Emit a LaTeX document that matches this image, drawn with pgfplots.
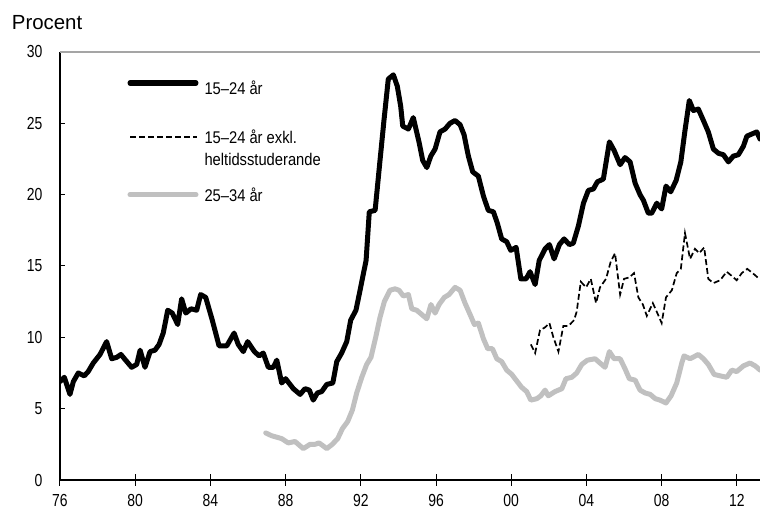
\documentclass[border=0pt]{standalone}
\usepackage{fontspec}
\setmainfont{Liberation Sans}
\newfontfamily\condfont[FakeStretch=0.87]{Liberation Sans}
\newfontfamily\tickfont[FakeStretch=0.80]{Liberation Sans}
\usepackage{pgfplots}
\usepackage{pgfplotstable}
\pgfplotsset{compat=1.18}
\definecolor{lgray}{RGB}{192,192,192}
\definecolor{framegray}{RGB}{165,165,165}
\newcommand\legfont{\condfont\fontsize{17}{20}\selectfont}

\pgfplotstableread{
x y
1976.00 6.9
1976.23 7.2
1976.53 6.0
1976.71 6.9
1976.97 7.5
1977.29 7.3
1977.50 7.6
1977.77 8.2
1978.13 8.8
1978.48 9.7
1978.75 8.5
1979.02 8.6
1979.24 8.8
1979.49 8.4
1979.81 7.9
1980.08 8.1
1980.26 9.1
1980.52 7.9
1980.79 9.0
1981.05 9.1
1981.27 9.5
1981.49 10.3
1981.73 11.9
1981.97 11.7
1982.26 10.9
1982.47 12.7
1982.69 11.7
1982.97 12.0
1983.27 11.9
1983.48 13.0
1983.75 12.8
1984.10 11.2
1984.46 9.4
1984.87 9.4
1985.26 10.3
1985.48 9.5
1985.75 9.0
1985.98 9.7
1986.34 9.0
1986.59 8.7
1986.81 8.9
1987.08 7.9
1987.35 7.9
1987.53 8.4
1987.79 6.8
1988.00 7.1
1988.41 6.4
1988.77 6.0
1989.03 6.4
1989.26 6.3
1989.47 5.6
1989.69 6.1
1989.92 6.2
1990.19 6.7
1990.51 6.8
1990.72 8.3
1990.98 8.9
1991.25 9.7
1991.46 11.2
1991.74 11.9
1991.96 13.3
1992.28 15.4
1992.45 18.8
1992.76 18.9
1993.02 22.4
1993.23 25.2
1993.46 28.1
1993.73 28.4
1993.94 27.6
1994.12 26.2
1994.23 24.8
1994.53 24.6
1994.79 25.4
1995.11 23.6
1995.29 22.4
1995.51 21.9
1995.72 22.7
1995.95 23.2
1996.21 24.4
1996.48 24.6
1996.74 25.0
1997.01 25.2
1997.28 24.9
1997.49 24.2
1997.72 22.7
1997.95 21.6
1998.25 21.3
1998.52 19.9
1998.78 18.9
1999.05 18.8
1999.26 18.0
1999.49 16.9
1999.76 16.7
1999.97 16.1
2000.26 16.3
2000.51 14.1
2000.79 14.1
2001.00 14.6
2001.27 13.7
2001.49 15.4
2001.80 16.2
2002.03 16.5
2002.28 15.5
2002.56 16.5
2002.81 16.9
2003.09 16.5
2003.30 16.6
2003.57 17.8
2003.84 19.4
2004.10 20.3
2004.37 20.4
2004.58 20.9
2004.90 21.1
2005.22 23.7
2005.47 23.1
2005.79 22.1
2006.05 22.6
2006.32 22.3
2006.59 20.8
2006.85 20.0
2007.03 19.6
2007.29 18.7
2007.47 18.7
2007.74 19.4
2008.00 19.0
2008.23 20.6
2008.48 20.2
2008.77 21.0
2009.02 22.3
2009.24 24.5
2009.47 26.6
2009.69 25.9
2009.95 26.0
2010.22 25.2
2010.48 24.4
2010.75 23.2
2011.02 22.9
2011.28 22.8
2011.55 22.3
2011.81 22.7
2012.08 22.8
2012.35 23.4
2012.53 24.1
2013.06 24.4
2013.23 23.9
}\youngtable

\pgfplotstableread{
x y
2001.04 9.5
2001.27 8.9
2001.53 10.5
2001.80 10.7
2002.03 11.0
2002.24 10.0
2002.51 9.0
2002.77 10.8
2003.04 10.8
2003.34 11.2
2003.48 11.8
2003.70 13.9
2003.98 13.5
2004.23 14.1
2004.51 12.4
2004.72 13.5
2005.04 14.1
2005.29 15.3
2005.52 15.9
2005.79 13.0
2006.00 14.1
2006.28 14.2
2006.53 14.5
2006.76 12.8
2007.00 12.3
2007.21 11.5
2007.53 12.4
2007.77 11.7
2008.00 11.0
2008.23 12.8
2008.54 13.3
2008.80 14.5
2009.02 14.8
2009.24 17.3
2009.51 15.5
2009.77 16.2
2010.00 15.9
2010.26 16.3
2010.48 14.1
2010.75 13.8
2011.11 14.0
2011.46 14.6
2011.73 14.3
2011.99 14.0
2012.26 14.5
2012.55 14.8
2012.84 14.5
2013.19 14.1
}\exkltable

\pgfplotstableread{
x y
1986.94 3.3
1987.26 3.1
1987.53 3.0
1987.79 2.9
1988.14 2.6
1988.50 2.7
1988.94 2.2
1989.30 2.5
1989.56 2.5
1989.78 2.6
1990.19 2.2
1990.48 2.5
1990.77 2.9
1991.02 3.6
1991.30 4.1
1991.55 4.9
1991.78 6.1
1992.05 7.2
1992.31 8.1
1992.54 8.6
1992.79 10.0
1993.02 11.4
1993.25 12.5
1993.55 13.3
1993.82 13.4
1994.03 13.3
1994.26 12.9
1994.53 13.0
1994.71 12.0
1994.97 11.9
1995.24 11.6
1995.51 11.3
1995.73 12.3
1995.95 11.7
1996.16 12.3
1996.44 12.8
1996.69 13.0
1997.01 13.5
1997.28 13.3
1997.54 12.4
1997.81 11.6
1998.04 10.9
1998.25 11.0
1998.52 9.9
1998.75 9.2
1999.00 9.2
1999.23 8.5
1999.49 8.3
1999.76 7.7
2000.03 7.4
2000.20 7.1
2000.55 6.5
2000.82 6.2
2001.04 5.6
2001.36 5.7
2001.57 5.9
2001.80 6.3
2001.97 5.9
2002.33 6.2
2002.69 6.4
2002.91 7.1
2003.22 7.2
2003.48 7.5
2003.75 8.1
2004.05 8.4
2004.46 8.5
2004.72 8.2
2004.99 7.9
2005.22 9.0
2005.47 8.5
2005.79 8.5
2006.05 7.8
2006.28 7.1
2006.59 7.0
2006.85 6.3
2007.12 6.1
2007.39 6.0
2007.66 5.7
2007.91 5.6
2008.23 5.4
2008.50 5.9
2008.80 6.8
2009.07 8.2
2009.19 8.7
2009.51 8.5
2009.95 8.8
2010.22 8.5
2010.48 8.1
2010.79 7.4
2011.11 7.3
2011.46 7.2
2011.73 7.7
2011.99 7.6
2012.35 8.0
2012.70 8.2
2012.97 8.0
2013.24 7.7
}\oldtable

\begin{document}
\begin{tikzpicture}
\begin{axis}[
  scale only axis, width=700bp, height=428bp,
  xmin=1976, xmax=2013.23, ymin=0, ymax=30,
  axis x line*=bottom, axis y line*=left,
  axis line style={-, line width=1.3bp, black},
  xtick={1976,1980,...,2012},
  xticklabels={76,80,84,88,92,96,00,04,08,12},
  ytick={0,5,...,30},
  xtick align=center, ytick align=inside,
  major tick length=11bp,
  y tick style={/pgfplots/major tick length=5bp},
  tick style={line width=1bp, black},
  tick label style={font=\tickfont\fontsize{17.5}{20}\selectfont, text=black},
  /pgf/number format/assume math mode=true,
  yticklabel style={inner sep=0pt, xshift=-17.5bp},
  xticklabel style={inner sep=0pt, yshift=-9bp},
  legend style={at={(rel axis cs:0,1)}, anchor=north west, xshift=67.5bp, yshift=-4bp,
    draw=none, fill=none, inner sep=0pt, outer sep=0pt, row sep=0pt, column sep=0pt,
    nodes={inner sep=0pt, outer sep=0pt}},
  legend cell align=left,
  after end axis/.code={\draw[framegray, line width=1.5bp] (rel axis cs:0,1) -- (rel axis cs:1,1);},
]
\addplot[black, line width=5bp, line join=round, line cap=round, no markers,
  legend image code/.code={
    \path[draw=none, fill=none] (0bp,-27bp) rectangle (66bp,27bp);
    \draw[black, solid, line width=5bp, line cap=round] (0bp,0bp) -- (66bp,0bp);
    \node[draw=none, fill=none, text=black, anchor=base west, inner sep=0pt, font=\legfont] at (74.5bp,-11bp) {15–24 år};}]
  table[x=x, y=y] {\youngtable};
\addlegendentry{}
\addplot[black, line width=1.7bp, dash pattern=on 6bp off 3bp, no markers,
  legend image code/.code={
    \path[draw=none, fill=none] (0bp,-27bp) rectangle (66bp,27bp);
    \draw[black, line width=1.7bp, dash pattern=on 6bp off 3bp] (0bp,0bp) -- (67bp,0bp);
    \node[draw=none, fill=none, text=black, anchor=base west, inner sep=0pt, font=\legfont] at (74.5bp,-6.6bp) {15–24 år exkl.};
    \node[draw=none, fill=none, text=black, anchor=base west, inner sep=0pt, font=\legfont] at (74.5bp,-28.3bp) {heltidsstuderande};}]
  table[x=x, y=y] {\exkltable};
\addlegendentry{}
\addplot[lgray, line width=5bp, line join=round, line cap=round, no markers,
  legend image code/.code={
    \path[draw=none, fill=none] (0bp,-27bp) rectangle (66bp,28bp);
    \draw[lgray, solid, line width=5bp, line cap=round] (0bp,0bp) -- (66bp,0bp);
    \node[draw=none, fill=none, text=black, anchor=base west, inner sep=0pt, font=\legfont] at (74.5bp,-6.6bp) {25–34 år};}]
  table[x=x, y=y] {\oldtable};
\addlegendentry{}
\end{axis}
\node[anchor=base west, inner sep=0pt, font=\fontsize{20.5}{24}\selectfont] at ([shift={(-48.3bp,22.7bp)}]current axis.north west) {Procent};
\pgfresetboundingbox
\path[use as bounding box] ([shift={(-60bp,-31bp)}]current axis.south west) rectangle ([shift={(0bp,52bp)}]current axis.north east);
\end{tikzpicture}
\end{document}
